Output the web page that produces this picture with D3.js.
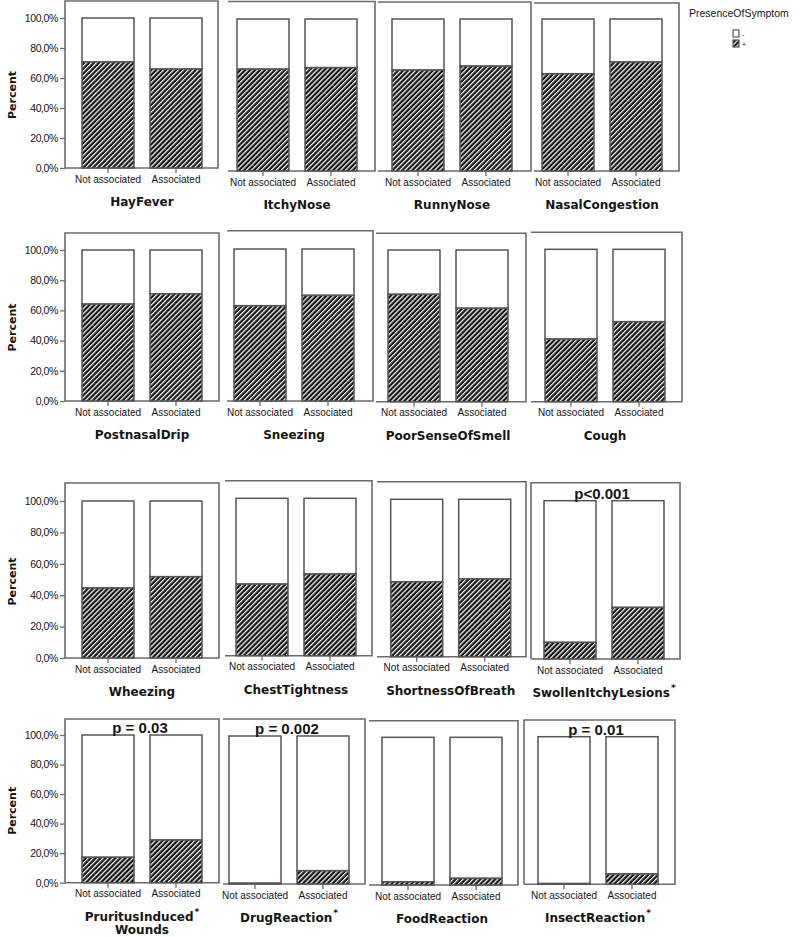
<!DOCTYPE html>
<html>
<head>
<meta charset="utf-8">
<script src="https://cdn.jsdelivr.net/npm/d3@7"></script>
<style>
  html, body { margin: 0; padding: 0; background: #fff; }
  svg { display: block; }
</style>
</head>
<body>
<svg id="chart" width="800" height="937"></svg>
<script>
// ---------------- data ----------------
const categories = ["Not associated", "Associated"];
const symptoms = [
  "HayFever", "ItchyNose", "RunnyNose", "NasalCongestion",
  "PostnasalDrip", "Sneezing", "PoorSenseOfSmell", "Cough",
  "Wheezing", "ChestTightness", "ShortnessOfBreath", "SwollenItchyLesions",
  "PruritusInduced Wounds", "DrugReaction", "FoodReaction", "InsectReaction"
];
// percent of "+" (symptom present) in each group
const plusNotAssociated = [70.7, 67.0, 66.4, 64.0, 64.2, 62.7, 70.8, 41.1, 44.6, 45.5, 47.6, 10.5, 17.2, 0.5, 2.2, 0.5];
const plusAssociated    = [66.0, 68.0, 69.0, 71.7, 71.0, 69.5, 61.6, 52.5, 51.8, 51.9, 49.4, 32.6, 28.9, 9.0, 4.5, 7.0];
const pValueLabels = ["", "", "", "", "", "", "", "", "", "", "", "p<0.001", "p = 0.03", "p = 0.002", "", "p = 0.01"];
const significant  = [false, false, false, false, false, false, false, false, false, false, false, true, true, true, false, true];
const yTickValues = [0, 20, 40, 60, 80, 100];
const legendKeys = ["-", "+"];
const legendTitle = "PresenceOfSymptom";
const yTitle = "Percent";

// ---------------- layout (panel frames, pixel geometry) ----------------
// fl/fr: frame left/right, ft: frame top, y0/y100: value-axis range, bx: first bar left, box: draw left border
const layout = [
  {fl: 65,  fr: 218, ft: 1,     y0: 168,   y100: 18,    bx: 82,    box: true,  axis: true},
  {fl: 228, fr: 375, ft: 1.5,   y0: 171,   y100: 19,    bx: 237,   box: false},
  {fl: 378, fr: 531, ft: 2,     y0: 171,   y100: 19,    bx: 392,   box: false},
  {fl: 534, fr: 679, ft: 3,     y0: 171,   y100: 19,    bx: 542,   box: false},
  {fl: 65,  fr: 219, ft: 233,   y0: 401,   y100: 250,   bx: 82,    box: true,  axis: true},
  {fl: 227, fr: 373, ft: 230.7, y0: 401,   y100: 249,   bx: 234,   box: false},
  {fl: 376, fr: 526, ft: 233.3, y0: 401.7, y100: 250,   bx: 388,   box: false},
  {fl: 531, fr: 682, ft: 232.3, y0: 401.7, y100: 249.3, bx: 545,   box: false},
  {fl: 65,  fr: 219, ft: 483,   y0: 658,   y100: 501,   bx: 82,    box: true,  axis: true},
  {fl: 225, fr: 372, ft: 480.7, y0: 655.7, y100: 498.3, bx: 236,   box: false},
  {fl: 377, fr: 526, ft: 481.7, y0: 656.7, y100: 499.3, bx: 390.7, box: false},
  {fl: 531, fr: 680, ft: 482.7, y0: 659,   y100: 500.7, bx: 544,   box: true},
  {fl: 65,  fr: 219, ft: 719,   y0: 882.7, y100: 735,   bx: 82,    box: true,  axis: true},
  {fl: 223, fr: 365, ft: 719,   y0: 884,   y100: 736,   bx: 229,   box: false},
  {fl: 369, fr: 518, ft: 720.7, y0: 885,   y100: 737.3, bx: 382,   box: false},
  {fl: 524, fr: 675, ft: 720,   y0: 884.3, y100: 736.7, bx: 538,   box: true}
];

// ---------------- drawing ----------------
const svg = d3.select("#chart");
const frameColor = "#6b6b6b";
const barStroke = "#555";
const textColor = "#151515";

const defs = svg.append("defs");
const pat = defs.append("pattern")
  .attr("id", "hatch")
  .attr("patternUnits", "userSpaceOnUse")
  .attr("width", 3.5).attr("height", 3.5)
  .attr("patternTransform", "rotate(45)");
pat.append("rect").attr("width", 3.5).attr("height", 3.5).attr("fill", "#141414");
pat.append("rect").attr("x", 0).attr("width", 1.25).attr("height", 3.5).attr("fill", "#ffffff");

symptoms.forEach((name, i) => {
  const L = layout[i];
  const g = svg.append("g");
  const x = d3.scaleBand().domain(categories).range([L.bx, L.bx + 120]).paddingInner(16 / 68).paddingOuter(0);
  const y = d3.scaleLinear().domain([0, 100]).range([L.y0, L.y100]);
  const vals = [plusNotAssociated[i], plusAssociated[i]];

  // frame
  const fp = d3.path();
  if (L.box) { fp.moveTo(L.fl, L.y0); fp.lineTo(L.fl, L.ft); } else { fp.moveTo(L.fl, L.ft); }
  fp.lineTo(L.fr, L.ft);
  fp.lineTo(L.fr, L.y0);
  fp.lineTo(L.fl, L.y0);
  g.append("path").attr("d", fp.toString()).attr("fill", "none")
    .attr("stroke", frameColor).attr("stroke-width", 1.6);

  // bars: white (-) segment and hatched (+) segment
  categories.forEach((c, k) => {
    g.append("rect")
      .attr("x", x(c)).attr("width", x.bandwidth())
      .attr("y", y(100)).attr("height", y(vals[k]) - y(100))
      .attr("fill", "#fff").attr("stroke", barStroke).attr("stroke-width", 1.5);
    g.append("rect")
      .attr("x", x(c)).attr("width", x.bandwidth())
      .attr("y", y(vals[k])).attr("height", y(0) - y(vals[k]))
      .attr("fill", "url(#hatch)").attr("stroke", barStroke).attr("stroke-width", 1.5);
  });

  // x axis ticks and labels
  const xAxis = d3.axisBottom(x).tickSize(5).tickPadding(4);
  const xa = g.append("g").attr("transform", `translate(0,${L.y0})`).call(xAxis);
  xa.select(".domain").remove();
  xa.selectAll(".tick line").attr("stroke", frameColor).attr("stroke-width", 1.3);
  xa.selectAll(".tick text").attr("font-family", "Liberation Sans, Arial, sans-serif")
    .attr("font-size", 10).attr("fill", textColor).attr("dy", "0.55em");

  // y axis on first column
  if (L.axis) {
    const yAxis = d3.axisLeft(y).tickValues(yTickValues).tickSize(5).tickPadding(2)
      .tickFormat(d => d.toFixed(1).replace(".", ",") + "%");
    const ya = g.append("g").attr("transform", `translate(${L.fl},0)`).call(yAxis);
    ya.select(".domain").remove();
    ya.selectAll(".tick line").attr("stroke", frameColor).attr("stroke-width", 1.3);
    ya.selectAll(".tick text").attr("font-family", "Liberation Sans, Arial, sans-serif")
      .attr("font-size", 10.5).attr("fill", textColor).attr("letter-spacing", "-0.4");
    g.append("text")
      .attr("transform", `translate(16,${(L.y0 + L.y100) / 2 + 2}) rotate(-90)`)
      .attr("text-anchor", "middle")
      .attr("font-family", "DejaVu Sans, Verdana, sans-serif").attr("font-weight", "bold")
      .attr("font-size", 11).attr("fill", textColor)
      .text(yTitle);
  }

  // panel title
  const cx = L.bx + 60;
  const lines = name.split(" ");
  lines.forEach((ln, j) => {
    const t = g.append("text")
      .attr("x", cx).attr("y", L.y0 + 38 + j * 13)
      .attr("text-anchor", "middle")
      .attr("font-family", "DejaVu Sans, Verdana, sans-serif").attr("font-weight", "bold")
      .attr("font-size", 12).attr("fill", textColor)
      .text(ln);
    if (j === 0 && significant[i]) {
      t.append("tspan").attr("font-size", 9).attr("dy", -6).attr("dx", 1).text("*");
    }
  });

  // p value
  if (pValueLabels[i]) {
    g.append("text")
      .attr("x", cx - 2).attr("y", L.y100 - 2)
      .attr("text-anchor", "middle")
      .attr("font-family", "Liberation Sans, Arial, sans-serif").attr("font-weight", "bold")
      .attr("font-size", 15).attr("fill", textColor)
      .text(pValueLabels[i]);
  }
});

// legend
const lg = svg.append("g");
lg.append("text").attr("x", 689).attr("y", 17)
  .attr("font-family", "Liberation Sans, Arial, sans-serif").attr("font-size", 10.5)
  .attr("fill", textColor).text(legendTitle);
const ly = d3.scaleBand().domain(legendKeys).range([30, 47]).paddingInner(0.3);
legendKeys.forEach((k, j) => {
  lg.append("rect").attr("x", 733).attr("y", ly(k)).attr("width", 6).attr("height", ly.bandwidth())
    .attr("fill", j === 0 ? "#fff" : "url(#hatch)").attr("stroke", barStroke).attr("stroke-width", 1.2);
  lg.append("text").attr("x", 742).attr("y", ly(k) + ly.bandwidth())
    .attr("font-family", "Liberation Sans, Arial, sans-serif").attr("font-size", 7)
    .attr("fill", textColor).text(k);
});
</script>
</body>
</html>
